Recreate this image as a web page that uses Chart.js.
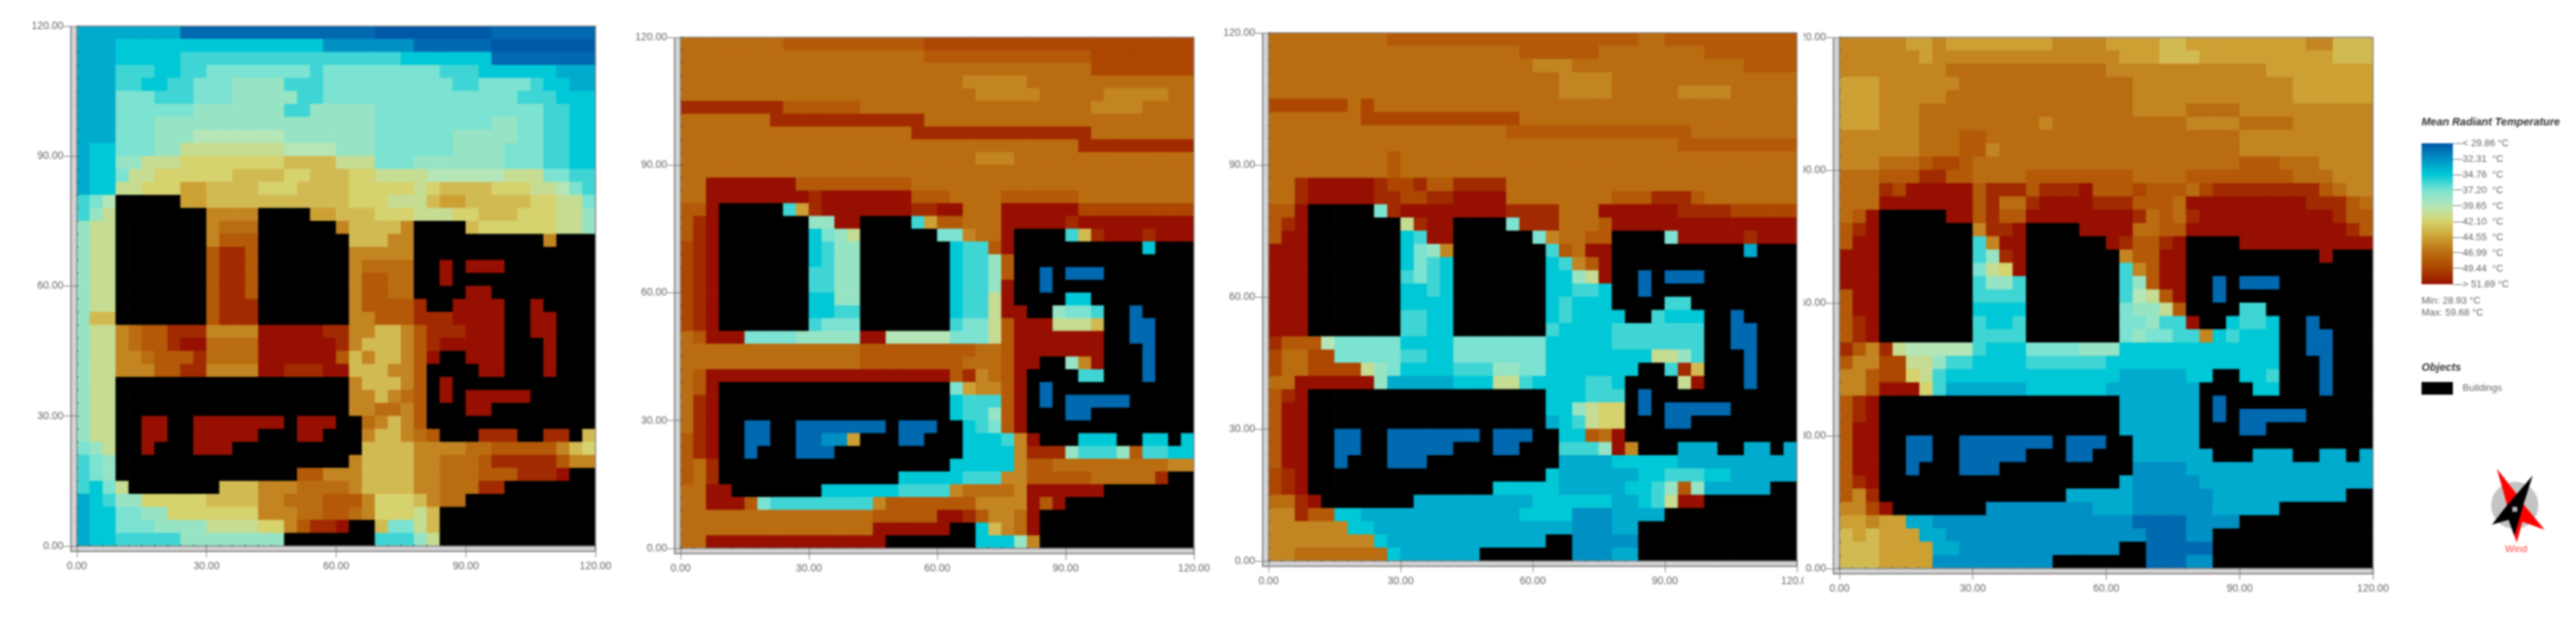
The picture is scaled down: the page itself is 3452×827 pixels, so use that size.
<!DOCTYPE html>
<html>
<head>
<meta charset="utf-8">
<title>Mean Radiant Temperature</title>
<script src="https://cdn.jsdelivr.net/npm/chart.js@4/dist/chart.umd.min.js"></script>
<style>
html, body { margin: 0; padding: 0; background: #fff; overflow: hidden; }
#page { position: relative; width: 3452px; height: 827px; filter: blur(1px); }
#page canvas, #page .txt, #page svg, #page .swatch { position: absolute; }
.txt { font: 13px "Liberation Sans", sans-serif; color: #666; white-space: pre; line-height: 16px; }
.head { font-size: 14.5px; font-weight: bold; font-style: italic; color: #333; }
.swatch { background: #000; }
</style>
</head>
<body>
<div id="page"></div>
<script>
// colour scale of the legend
var legendTicks = [29.86, 32.31, 34.76, 37.20, 39.65, 42.10, 44.55, 46.99, 49.44, 51.89];
var legendLabels = ['< 29.86 °C', '32.31  °C', '34.76  °C', '37.20  °C', '39.65  °C', '42.10  °C', '44.55  °C', '46.99  °C', '49.44  °C', '> 51.89 °C'];
var legendColors = ['#0058a8', '#0090c4', '#00c8d6', '#7ce2d2', '#b4e6b8', '#d6d26e', '#cda034', '#ba6c10', '#ac4600', '#960f00'];

// one letter or digit per temperature, K = building
var codeTemps = {
    '0': 29.86, a: 30.6, '1': 32.31, b: 33.5, '2': 34.76, c: 36.0, '3': 37.2, d: 38.4, '4': 39.65, e: 40.9,
    '5': 42.1, f: 43.3, '6': 44.55, g: 45.8, '7': 46.99, h: 48.2, '8': 49.44, i: 50.7, '9': 51.89
};
var axisTicks = [0, 30, 60, 90, 120];
var cellSize = 3;

// rows run from the top (y = 120) down, each token is code + run length over 40 cells
var panel1Rows = [
    'b8 a15 09 a8',
    'b3 216 17 a6 08',
    'b3 25 c17 27 a8',
    'b3 c3 22 c2 38 c1 39 c3 26 b3',
    'b3 c2 22 c2 33 d4 c3 310 c2 34 c1 22 b2',
    'b3 33 c3 33 d5 c2 315 c3 23',
    'b3 36 d7 c2 d5 310 33 c2 22',
    'b3 33 d17 39 d2 32 c2 22',
    'b3 33 d3 47 d7 36 d5 32 c2 22',
    'b1 22 33 d2 e8 44 d3 36 d4 33 c2 22',
    'b1 22 d2 e3 58 f4 e3 33 d7 33 c2 22',
    'b1 22 31 e2 56 f4 52 f3 52 e4 46 e3 32 c2',
    'b1 22 e2 53 62 f4 53 f4 55 e1 51 f4 53 e2 41 31 c1',
    'c1 31 41 K5 62 f4 f4 f3 53 e2 e1 f1 62 f5 52 e2 31',
    'c1 d1 e1 K7 g4 K4 62 f3 53 e3 52 f3 53 e2 d1',
    'd1 e2 K7 g1 73 K6 g1 f4 g1 K4 f1 56 e2 d1',
    'd1 e2 K7 g1 h3 K7 f3 g2 K10 g1 K3',
    'd1 e2 K7 h1 i2 h1 K7 g3 g2 K14',
    'd1 e2 K7 h1 i2 h1 K7 g1 74 K2 91 K1 93 K7',
    'd1 e2 K7 h1 i2 h1 K7 g1 h2 72 K2 91 K11',
    'd1 e2 K7 h1 i2 h1 K7 g1 h2 72 K4 92 K8',
    'd1 e2 K7 h1 i3 K7 g1 h2 h2 i1 K2 94 K2 91 K4',
    'd1 f2 K7 h1 i3 K7 g2 h3 i3 94 K2 92 K3',
    'd1 e2 g1 71 h2 i3 g4 95 i2 g2 f2 g1 h1 i3 93 K2 92 K3',
    'd1 e2 g1 71 h2 i1 92 74 96 i1 g1 f3 g1 h1 i1 95 K3 91 K3',
    'd1 e2 g2 71 h1 h2 i1 74 96 h1 f1 g1 f2 g1 h1 91 K2 93 K3 91 K3',
    'd1 e2 g3 h2 i2 g4 92 i3 92 f2 f1 g2 h1 K4 92 K3 91 K3',
    'd1 e2 K18 g1 f3 g1 h1 K1 91 K11',
    'd1 e2 K18 g2 f1 g1 71 h1 K1 91 K1 95 K5',
    'd1 e2 K18 g2 72 g1 h1 K3 92 K8',
    'd1 e2 K2 92 K2 97 K1 93 K2 71 g1 f1 g1 h1 K13',
    'd1 e2 K2 92 K2 95 K3 92 K3 g1 f2 g1 71 h1 K3 i3 K2 i2 K1 f1',
    '31 d1 e1 K2 91 K3 93 K10 f4 g4 72 h5 g1 f1 51',
    'c1 31 d1 K18 g1 f4 g2 73 h1 i5 h1 g2',
    'c1 31 d1 K14 h2 g3 f4 g2 73 h3 i3 91 K2',
    'c1 21 31 e1 K7 f3 g3 74 g1 f4 g2 73 i2 K7',
    'b1 21 c1 d2 55 f4 g2 73 h3 g1 53 f1 g1 72 K10',
    'b1 22 32 d2 57 g2 g1 72 h2 71 g1 53 e1 f1 K12',
    'b1 22 33 d4 e4 52 g1 h1 i2 91 K2 f1 32 e1 f1 K12',
    'b1 22 c5 d8 K7 c3 d1 e1 K12'
];
var panel2Rows = [
    '78 h11 821',
    '719 h13 88',
    '732 88',
    '722 g5 713',
    '723 g5 75 g5 72',
    'i8 h6 718 g4 74',
    '77 i12 721',
    '718 i14 78',
    '731 i9',
    '723 g3 714',
    '740',
    '72 97 h9 722',
    '72 98 i1 97 h3 74 h6 79',
    'h2 91 K5 c1 61 i1 97 i2 92 73 96 89',
    'h1 i1 91 K7 d2 92 K4 c1 61 h2 73 95 i1 99',
    'h1 i1 91 K7 21 31 d1 e1 K6 32 g1 72 91 K4 c1 f1 i1 93 i1 93',
    '81 i1 91 K7 21 c1 d2 K7 21 c2 h1 91 K10 21 K3',
    '81 i1 91 K7 21 c1 d2 K7 21 c2 d1 h1 K14',
    '81 i1 91 K7 c1 c1 d2 K7 21 c2 d1 h1 K2 a1 K1 a3 K7',
    '81 i1 91 K7 c2 d2 K7 21 c2 d1 91 K2 a1 K11',
    '81 i1 91 K7 22 d2 K7 21 c2 e1 91 K4 22 K8',
    '81 i1 91 K7 22 c2 K7 21 c2 e1 91 91 K2 d1 31 31 c1 K2 a1 K4',
    '81 i1 91 K7 c1 31 32 K7 c1 32 e1 h1 93 e3 f1 K2 a2 K3',
    '71 h1 93 34 d5 92 45 33 e1 h1 97 K2 a2 K3',
    '714 h9 72 h1 97 K3 a1 K3',
    '714 h8 73 h1 92 K2 d1 g1 91 K3 a1 K3',
    '71 h1 919 h1 i1 g1 71 h1 91 K4 c2 K3 a1 K3',
    '71 h1 91 K18 31 61 g2 h1 91 K1 a1 K11',
    '71 i1 91 K18 21 c3 h1 91 K1 a1 K1 a5 K5',
    '71 i1 91 K18 21 c2 d1 h1 91 K3 a2 K8',
    '71 i1 91 K2 a2 K2 a7 K1 a3 K2 21 c1 31 h1 91 K13',
    'h1 i1 91 K2 a2 K2 a2 12 61 K3 a2 K3 23 c1 g1 91 K3 23 K2 22 K1 21',
    'h1 i1 91 K2 a1 K3 a3 K10 24 g1 i3 d1 c3 d1 h1 c2 22',
    'h1 71 i1 K18 25 g1 h2 79 g2',
    'h1 71 i1 K14 25 c3 g2 h5 75 i1 K2',
    '72 92 K7 26 c4 g1 74 g1 96 K7',
    '72 93 h1 31 c8 g1 h7 g3 g1 91 h1 91 K10',
    '715 h5 92 i1 h1 g2 71 91 K12',
    '715 96 K2 21 f1 g1 71 91 K12',
    '72 914 K7 23 d1 g1 K12'
];
var panel3Rows = [
    '79 h19 72 h10',
    '719 h6 78 h7',
    '720 g3 713 h4',
    '722 g4 714',
    '722 g4 75 g4 75',
    '86 71 81 732',
    '77 812 721',
    '718 h14 78',
    '731 h9',
    '79 h1 730',
    '79 h1 730',
    '72 i1 95 i1 82 i1 h2 i4 722',
    '72 i1 95 i2 82 i2 94 78 h3 i3 h1 77',
    'h2 91 K5 31 i1 98 i4 73 96 i4 85',
    'h1 i1 91 K7 e1 i1 92 K4 31 i1 i2 73 h1 914',
    'h1 92 K7 21 c1 92 K6 31 g1 72 h1 h1 K4 31 95 i1 93',
    '93 K7 21 31 d1 g1 K7 c1 h1 71 91 91 K10 b1 K3',
    '93 K7 21 31 c1 21 K7 21 c1 g1 h1 91 K14',
    '93 K7 c1 31 c1 21 K7 22 d1 e1 91 K2 a1 K1 a3 K7',
    '93 K7 21 21 c1 21 K7 22 c1 c1 21 K2 a1 K11',
    '93 K7 24 K7 21 c1 23 K4 c2 K8',
    '93 K7 c2 22 K7 21 c1 22 22 K2 c1 21 22 K2 a1 K4',
    '93 K7 c2 22 K7 c1 24 c7 K2 a2 K3',
    'i1 h3 41 35 24 37 25 c7 K2 a2 K3',
    '81 72 82 35 c2 22 37 25 23 e2 d1 c1 K3 a1 K3',
    '81 72 84 e1 d1 31 24 c3 d2 32 25 22 K2 c1 i1 f1 K3 a1 K3',
    '72 96 d1 b5 23 e2 c1 21 23 c2 21 K4 e1 91 K3 a1 K3',
    'h1 i1 91 K18 23 c3 K1 a1 K11',
    'h1 92 K18 22 d1 e1 51 51 K1 a1 K1 a5 K5',
    'h1 92 K18 b1 21 c1 e1 51 51 K3 a2 K8',
    'h1 92 K2 a2 K2 a7 K1 a3 K2 22 h1 71 91 K13',
    'h1 92 K2 a2 K2 a5 K3 a2 K3 c3 d1 91 g1 K3 b3 K2 b2 K1 b1',
    'h1 92 K2 a1 K3 a3 K10 b4 25 b5 b4',
    '81 i1 91 K18 21 b6 22 c3 22 b5',
    '81 i1 91 K14 25 b5 22 c1 d1 h1 d1 b5 K2',
    '72 i1 91 K7 b9 26 b2 21 c1 e1 92 K7',
    'g2 i1 h2 22 b12 24 13 b4 K10',
    'g6 22 b15 13 b2 K12',
    'g8 21 b12 K2 15 K12',
    'g2 77 21 b6 K7 13 b2 K12'
];
var panel4Rows = [
    'g5 62 g1 68 g4 64 f2 69 g2 f3',
    'g6 61 g14 63 f3 610 f3',
    'g8 712 g12 68',
    '63 g6 713 g12 66',
    '63 g5 714 g12 66',
    '63 g3 716 g4 74 g10',
    '63 g3 79 g1 710 g4 74 g6',
    'g6 73 h2 79 710 g10',
    'g6 73 h2 g1 718 g10',
    'g3 73 h1 82 h1 720 h3 73 g4',
    '73 h3 i2 h2 74 h8 74 h8 73 g3',
    '73 i1 81 95 h1 i3 h1 i3 91 h3 81 h3 71 81 i8 h1 71 g2',
    '73 97 h1 i1 72 i1 94 i3 h3 71 99 i3 h1 71',
    '71 h1 91 K5 92 h1 i1 h2 98 i1 71 h1 71 i1 910 i1 h2',
    'h1 i1 91 K7 g1 i1 i1 91 K4 94 72 h2 912 i1 h1',
    'h1 92 K7 c1 g1 92 K6 91 i1 h2 i1 91 K4 910',
    '93 K7 c1 d1 i1 91 K7 g1 h1 h1 92 K10 91 K3',
    '93 K7 31 e1 51 91 K7 c1 g1 h1 92 K14',
    '93 K7 c1 d2 c1 K7 c1 d1 h1 92 K2 a1 K1 a3 K7',
    'h1 92 K7 c4 K7 c1 41 e1 h1 91 K2 a1 K11',
    'h1 92 K7 24 K7 31 d2 e1 h1 K4 c2 K8',
    'h1 i1 91 K7 c1 22 c1 K7 32 d1 c2 91 K2 21 c2 21 K2 a1 K4',
    'h1 i1 91 K7 c4 K7 31 d1 32 c2 g1 21 c1 22 21 K2 a2 K3',
    'i1 h1 g1 i1 e1 45 c1 23 34 d3 25 27 K2 a2 K3',
    'h1 g2 82 e2 d1 c2 24 c6 213 K3 a1 K3',
    'g2 h1 82 51 e1 c1 22 24 27 b5 22 K2 22 c1 K3 a1 K3',
    'g2 h1 93 51 c1 b6 26 b7 K4 22 K3 a1 K3',
    'h1 i1 91 K18 b6 K1 a1 K11',
    'h1 i1 91 K18 b6 K1 a1 K1 a5 K5',
    'h1 92 K18 b6 K3 a2 K8',
    'h1 92 K2 a2 K2 a7 K1 a3 K2 b5 K13',
    'h1 92 K2 a2 K2 a5 K3 a2 K3 b6 K3 b3 K2 b2 K1 b1',
    'h1 92 K2 a1 K3 a3 K10 14 b14',
    'h1 i1 91 K18 b1 15 b13',
    'h1 g1 i1 K14 b5 16 b10 K2',
    'g2 81 91 K7 18 b3 16 b5 K7',
    '62 g1 62 b2 115 a4 14 K10',
    'f1 61 f1 63 b2 115 a3 12 K12',
    'f3 64 b2 112 K2 a5 K12',
    'f3 64 19 K7 a3 12 K12'
];

var page = document.getElementById('page');
var tickFont = { family: '"Liberation Sans", sans-serif', size: 14 };

function hexToRgb(hex) {
    return [1, 3, 5].map(function(i) { return parseInt(hex.substr(i, 2), 16); });
}

function tempColor(t) {
    var i = 0;
    while (i < legendTicks.length - 2 && t > legendTicks[i + 1]) i++;
    var k = Math.min(1, Math.max(0, (t - legendTicks[i]) / (legendTicks[i + 1] - legendTicks[i])));
    var a = hexToRgb(legendColors[i]), b = hexToRgb(legendColors[i + 1]);
    var c = a.map(function(v, n) { return Math.round(v + (b[n] - v) * k); });
    return `rgb(${c[0]},${c[1]},${c[2]})`;
}

function expandRow(row) {
    var cells = [];
    row.split(' ').forEach(function(token) {
        for (var n = 0; n < parseInt(token.slice(1), 10); n++) cells.push(token[0]);
    });
    if (cells.length !== 40) console.error('row length ' + cells.length + ': ' + row);
    return cells;
}

// axis frame of the original tool: grey band on the left and bottom, small marks every cell
var framePlugin = {
    id: 'frame',
    beforeDraw: function(chart) {
        var c = chart.ctx, a = chart.chartArea;
        c.save();
        c.fillStyle = '#d4d4d4';
        c.fillRect(a.left - 9, a.top, 9, a.height + 8);
        c.fillRect(a.left - 9, a.bottom, a.width + 9, 8);
        c.fillStyle = '#8c8c8c';
        c.fillRect(a.left - 9, a.top, 2, a.height + 8);
        c.fillRect(a.left - 9, a.bottom + 6, a.width + 9, 2);
        c.fillRect(a.right - 1, a.bottom, 2, 8);
        c.restore();
    },
    afterDatasetsDraw: function(chart) {
        var c = chart.ctx, a = chart.chartArea, xs = chart.scales.x, ys = chart.scales.y;
        c.save();
        c.strokeStyle = '#808080';
        c.lineWidth = 1.5;
        c.strokeRect(a.left, a.top, a.width, a.height);
        c.strokeStyle = '#333';
        c.lineWidth = 1;
        c.beginPath();
        for (var v = 0; v <= 120; v += cellSize) {
            c.moveTo(xs.getPixelForValue(v), a.bottom);
            c.lineTo(xs.getPixelForValue(v), a.bottom - 2);
            c.moveTo(a.left, ys.getPixelForValue(v));
            c.lineTo(a.left + 2, ys.getPixelForValue(v));
        }
        c.stroke();
        c.restore();
    }
};

function drawPanel(rows, box) {
    var canvas = document.createElement('canvas');
    var top = 12, xHeight = 46;
    canvas.width = box.axis + box.w + box.right;
    canvas.height = top + box.h + xHeight;
    canvas.style.left = (box.left - box.axis) + 'px';
    canvas.style.top = (box.top - top) + 'px';
    page.appendChild(canvas);

    // one stacked dataset per row, bottom row first
    var grid = rows.map(expandRow);
    var datasets = [];
    for (var r = grid.length - 1; r >= 0; r--) {
        datasets.push({
            data: grid[r].map(function(code, col) { return { x: (col + 0.5) * cellSize, y: cellSize }; }),
            backgroundColor: grid[r].map(function(code) { return code === 'K' ? '#000000' : tempColor(codeTemps[code]); }),
            barPercentage: 1,
            categoryPercentage: 1,
            borderWidth: 0
        });
    }

    var axisCommon = {
        type: 'linear', min: 0, max: 120, stacked: true, offset: false,
        border: { display: false },
        ticks: {
            stepSize: 30, autoSkip: false, maxRotation: 0, color: '#666', font: tickFont,
            callback: function(v) { return v.toFixed(2); }
        }
    };
    new Chart(canvas, {
        type: 'bar',
        data: { datasets: datasets },
        plugins: [framePlugin],
        options: {
            responsive: false, animation: false, devicePixelRatio: 1,
            layout: { padding: { top: top, right: box.right, left: 0, bottom: 0 } },
            plugins: { legend: { display: false }, tooltip: { enabled: false } },
            scales: {
                x: Object.assign({}, axisCommon, {
                    grid: { drawOnChartArea: false, offset: false, tickLength: 15, color: '#7a7a7a' },
                    ticks: Object.assign({}, axisCommon.ticks, { padding: 4 }),
                    afterBuildTicks: function(s) { s.ticks = axisTicks.map(function(v) { return { value: v }; }); },
                    afterFit: function(s) { s.height = xHeight; s.paddingLeft = 0; s.paddingRight = 0; }
                }),
                y: Object.assign({}, axisCommon, {
                    grid: { drawOnChartArea: false, tickLength: 18, color: '#7a7a7a' },
                    ticks: Object.assign({}, axisCommon.ticks, { padding: 0 }),
                    afterBuildTicks: function(s) { s.ticks = axisTicks.map(function(v) { return { value: v }; }); },
                    afterFit: function(s) { s.width = box.axis; s.paddingTop = 0; s.paddingBottom = 0; }
                })
            }
        }
    });
}

drawPanel(panel1Rows, { left: 103, top: 35, w: 695, h: 697, axis: 60, right: 40 });
drawPanel(panel2Rows, { left: 912, top: 50, w: 688, h: 685, axis: 60, right: 40 });
drawPanel(panel3Rows, { left: 1700, top: 44, w: 708, h: 708, axis: 60, right: 9 });
drawPanel(panel4Rows, { left: 2465, top: 50, w: 715, h: 712, axis: 48, right: 40 });

// colour bar
var barCanvas = document.createElement('canvas');
barCanvas.width = 200;
barCanvas.height = 209;
barCanvas.style.left = '3245px';
barCanvas.style.top = '182px';
page.appendChild(barCanvas);
new Chart(barCanvas, {
    type: 'bar',
    data: {
        labels: ['Mean Radiant Temperature'],
        datasets: [{
            data: [[legendTicks[0], legendTicks[9]]],
            barPercentage: 1,
            categoryPercentage: 1,
            backgroundColor: function(ctx) {
                var area = ctx.chart.chartArea;
                if (!area) return legendColors[0];
                var g = ctx.chart.ctx.createLinearGradient(0, area.top, 0, area.bottom);
                legendColors.forEach(function(col, i) { g.addColorStop(i / 9, col); });
                return g;
            }
        }]
    },
    options: {
        responsive: false, animation: false, devicePixelRatio: 1,
        layout: { padding: { top: 10, bottom: 10 } },
        plugins: { legend: { display: false }, tooltip: { enabled: false } },
        scales: {
            x: { display: false },
            y: {
                position: 'right', reverse: true, min: legendTicks[0], max: legendTicks[9],
                border: { display: false },
                grid: { drawOnChartArea: false, tickLength: 13, color: '#7a7a7a' },
                ticks: {
                    autoSkip: false, padding: 0, color: '#666',
                    font: { family: tickFont.family, size: 13 },
                    callback: function(v, i) { return legendLabels[i]; }
                },
                afterBuildTicks: function(s) { s.ticks = legendTicks.map(function(v) { return { value: v }; }); },
                afterFit: function(s) { s.width = 158; s.paddingTop = 0; s.paddingBottom = 0; }
            }
        }
    }
});

function addText(text, x, y, cls) {
    var d = document.createElement('div');
    d.className = 'txt ' + (cls || '');
    d.textContent = text;
    d.style.left = x + 'px';
    d.style.top = (y - 8) + 'px';
    page.appendChild(d);
    return d;
}
addText('Mean Radiant Temperature', 3245, 163, 'head');
addText('Min: 28.93 °C', 3245, 403);
addText('Max: 59.68 °C', 3245, 419);
addText('Objects', 3245, 492, 'head');
addText('Buildings', 3300, 520);
var swatch = document.createElement('div');
swatch.className = 'swatch';
swatch.style.cssText = 'left:3245px;top:512px;width:42px;height:17px';
page.appendChild(swatch);
addText('Wind', 3357, 736).style.color = '#ff4040';

// north arrow / wind rose
page.insertAdjacentHTML('beforeend',
    '<svg style="left:3300px;top:600px" width="152" height="227" viewBox="0 0 456 681">' +
    '<circle cx="210" cy="232" r="95" fill="#c4c4c4"/>' +
    '<polygon points="138,85 220,190 245,228 330,330 240,298 218,382 205,345 180,235" fill="#ff0000"/>' +
    '<polygon points="282,112 245,228 208,355 185,290 118,310 172,240" fill="#000"/>' +
    '<rect x="200" y="238" width="20" height="20" fill="#b8b8b8"/>' +
    '</svg>');
</script>
</body>
</html>
